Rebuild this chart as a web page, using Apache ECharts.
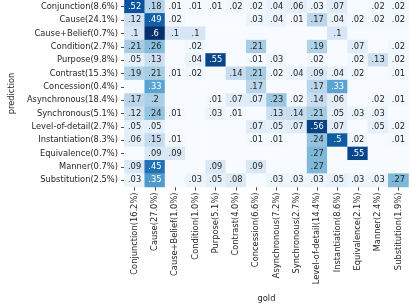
<!DOCTYPE html>
<html>
<head>
<meta charset="utf-8">
<script src="https://cdn.jsdelivr.net/npm/echarts@6/dist/echarts.min.js"></script>
<style>html,body{margin:0;padding:0;background:#fff}#c{width:411px;height:308px}</style>
</head>
<body>
<div id="c"></div>
<script>
const predictionLabels = ["Conjunction(8.6%)","Cause(24.1%)","Cause+Belief(0.7%)","Condition(2.7%)","Purpose(9.8%)","Contrast(15.3%)","Concession(0.4%)","Asynchronous(18.4%)","Synchronous(5.1%)","Level-of-detail(2.7%)","Instantiation(8.3%)","Equivalence(0.7%)","Manner(0.7%)","Substitution(2.5%)"];
const goldLabels = ["Conjunction(16.2%)","Cause(27.0%)","Cause+Belief(1.0%)","Condition(1.0%)","Purpose(5.1%)","Contrast(4.0%)","Concession(6.6%)","Asynchronous(7.2%)","Synchronous(2.7%)","Level-of-detail(14.4%)","Instantiation(8.6%)","Equivalence(2.1%)","Manner(2.4%)","Substitution(1.9%)"];
// rows = prediction, columns = gold
const values = [
  [.52,.18,.01,.01,.01,.02,.02,.04,.06,.03,.07,0,.02,.02],
  [.12,.49,.02,0,0,0,.03,.04,.01,.17,.04,.02,.02,.02],
  [.1,.6,.1,.1,0,0,0,0,0,0,.1,0,0,0],
  [.21,.26,0,.02,0,0,.21,0,0,.19,0,.07,0,.02],
  [.05,.13,0,.04,.55,0,.01,.03,0,.02,0,.02,.13,.02],
  [.19,.21,.01,.02,0,.14,.21,.02,.04,.09,.04,.02,0,.01],
  [0,.33,0,0,0,0,.17,0,0,.17,.33,0,0,0],
  [.17,.2,0,0,.01,.07,.07,.23,.02,.14,.06,0,.02,.01],
  [.12,.24,.01,0,.03,.01,0,.13,.14,.21,.05,.03,.03,0],
  [.05,.05,0,0,0,0,.07,.05,.07,.56,.07,0,.05,.02],
  [.06,.15,.01,0,0,0,.01,.01,0,.24,.5,.02,0,.01],
  [0,.09,.09,0,0,0,0,0,0,.27,0,.55,0,0],
  [.09,.45,0,0,.09,0,.09,0,0,.27,0,0,0,0],
  [.03,.35,0,.03,.05,.08,0,.03,.03,.03,.05,.03,.03,.27]
];
const blues = ['#f7fbff','#deebf7','#c6dbef','#9ecae1','#6baed6','#4292c6','#2171b5','#08519c','#08306b'];
const FONT = 'DejaVu Sans';
const data = [];
values.forEach((row, i) => row.forEach((v, j) => {
  data.push({
    value: [j, i, v],
    label: { show: v > 0, color: v >= 0.3 ? '#ffffff' : '#262626' }
  });
}));
const chart = echarts.init(document.getElementById('c'), null, {renderer: 'canvas'});
chart.setOption({
  animation: false,
  grid: { left: 118, right: 2.5, top: 0, bottom: 119 },
  xAxis: {
    type: 'category', data: goldLabels,
    name: 'gold', nameLocation: 'middle', nameGap: 108,
    nameTextStyle: { fontFamily: FONT, fontSize: 8.3, color: '#262626' },
    axisLine: { show: false },
    axisTick: { show: true, alignWithLabel: true, length: 3.5, lineStyle: { color: '#262626', width: 0.8 } },
    axisLabel: { rotate: 90, interval: 0, margin: 5.5, fontFamily: FONT, fontSize: 8.3, color: '#262626' },
    splitLine: { show: false }
  },
  yAxis: {
    type: 'category', data: predictionLabels, inverse: true,
    name: 'prediction', nameLocation: 'middle', nameGap: 103, nameRotate: 90,
    nameTextStyle: { fontFamily: FONT, fontSize: 8.3, color: '#262626' },
    axisLine: { show: false },
    axisTick: { show: true, alignWithLabel: true, length: 3.5, lineStyle: { color: '#262626', width: 0.8 } },
    axisLabel: { interval: 0, margin: 6.5, fontFamily: FONT, fontSize: 8.3, color: '#262626' },
    splitLine: { show: false }
  },
  visualMap: { show: false, type: 'continuous', min: 0, max: 0.6, dimension: 2, inRange: { color: blues } },
  series: [{
    type: 'heatmap',
    data: data,
    label: {
      show: true, fontFamily: FONT, fontSize: 8.3,
      formatter: p => String(p.value[2]).replace(/^0(?=\.)/, '')
    },
    itemStyle: { borderWidth: 0 },
    emphasis: { disabled: true }
  }]
});
</script>
</body>
</html>
